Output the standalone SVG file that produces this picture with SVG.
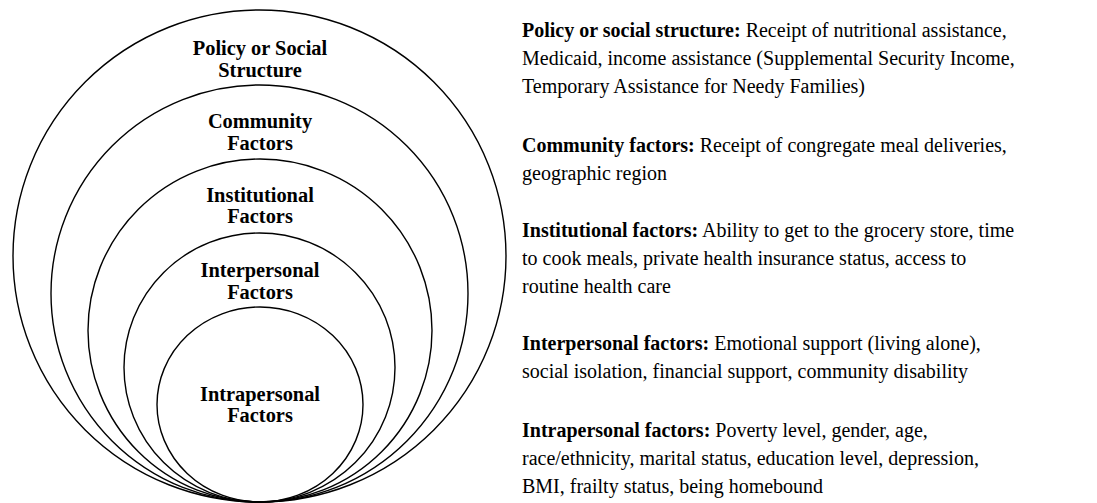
<svg xmlns="http://www.w3.org/2000/svg" width="1097" height="503" viewBox="0 0 1097 503">
  <style>
    .ring { fill: none; stroke: #000; stroke-width: 1.4; }
    .lbl { font-family: "Liberation Serif", "Times New Roman", serif; font-weight: bold; font-size: 20.4px; text-anchor: middle; fill: #000; }
    .desc { font-family: "Liberation Serif", "Times New Roman", serif; font-size: 20px; fill: #000; }
    .desc .k { font-weight: bold; }
  </style>
  <rect width="1097" height="503" fill="#fff"/>

  <!-- nested levels, all touching at the bottom -->
  <g id="policy">
    <ellipse class="ring" cx="259.5" cy="256" rx="246.5" ry="246"/>
    <text class="lbl" x="260" y="55">Policy or Social</text>
    <text class="lbl" x="260" y="77">Structure</text>
  </g>
  <g id="community">
    <ellipse class="ring" cx="259.5" cy="293.5" rx="208.5" ry="208.5"/>
    <text class="lbl" x="260" y="128">Community</text>
    <text class="lbl" x="260" y="150">Factors</text>
  </g>
  <g id="institutional">
    <ellipse class="ring" cx="260" cy="330.5" rx="172" ry="171.5"/>
    <text class="lbl" x="260" y="202">Institutional</text>
    <text class="lbl" x="260" y="223">Factors</text>
  </g>
  <g id="interpersonal">
    <ellipse class="ring" cx="259.5" cy="367.5" rx="135.5" ry="134.5"/>
    <text class="lbl" x="260" y="277">Interpersonal</text>
    <text class="lbl" x="260" y="299">Factors</text>
  </g>
  <g id="intrapersonal">
    <ellipse class="ring" cx="260" cy="404.5" rx="103" ry="97.5"/>
    <text class="lbl" x="260" y="401">Intrapersonal</text>
    <text class="lbl" x="260" y="422">Factors</text>
  </g>

  <g id="connectors"></g>

  <!-- descriptions -->
  <g id="descriptions" class="desc">
    <text x="522" y="37"><tspan class="k">Policy or social structure:</tspan> Receipt of nutritional assistance,</text>
    <text x="522" y="65">Medicaid, income assistance (Supplemental Security Income,</text>
    <text x="522" y="93">Temporary Assistance for Needy Families)</text>

    <text x="522" y="152"><tspan class="k">Community factors:</tspan> Receipt of congregate meal deliveries,</text>
    <text x="522" y="180">geographic region</text>

    <text x="522" y="237"><tspan class="k">Institutional factors:</tspan> Ability to get to the grocery store, time</text>
    <text x="522" y="265">to cook meals, private health insurance status, access to</text>
    <text x="522" y="293">routine health care</text>

    <text x="522" y="350"><tspan class="k">Interpersonal factors:</tspan> Emotional support (living alone),</text>
    <text x="522" y="378">social isolation, financial support, community disability</text>

    <text x="522" y="437"><tspan class="k">Intrapersonal factors:</tspan> Poverty level, gender, age,</text>
    <text x="522" y="465">race/ethnicity, marital status, education level, depression,</text>
    <text x="522" y="493">BMI, frailty status, being homebound</text>
  </g>
</svg>
